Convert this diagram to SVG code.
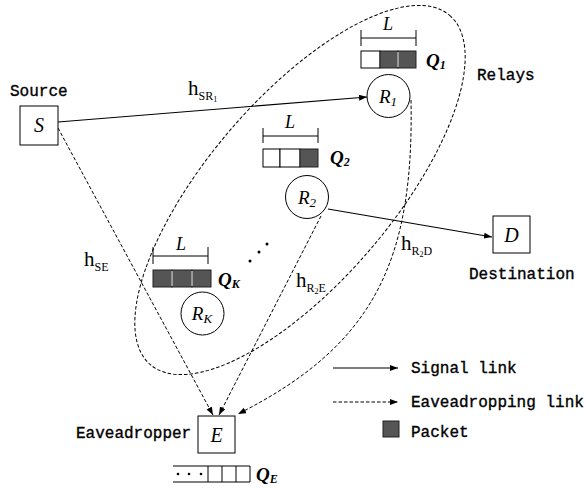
<svg xmlns="http://www.w3.org/2000/svg" width="586" height="488" viewBox="0 0 586 488">
<defs>
<marker id="ah" markerUnits="userSpaceOnUse" markerWidth="9" markerHeight="7" refX="8" refY="3" orient="auto">
<path d="M0,0 L8,3 L0,6 z" fill="#000"/>
</marker>
<style>
.box{fill:#fff;stroke:#000;stroke-width:1}
.cir{fill:#fff;stroke:#000;stroke-width:1}
.sig{fill:none;stroke:#000;stroke-width:1.1}
.dash{fill:none;stroke:#000;stroke-width:1;stroke-dasharray:3.5,2}
.mono{font-family:"Liberation Mono","Courier New",monospace;font-size:16px;fill:#000;stroke:#000;stroke-width:0.35}
.it{font-family:"Liberation Serif","Times New Roman",serif;font-style:italic;fill:#000}
.q{font-family:"Liberation Serif","Times New Roman",serif;font-style:italic;font-weight:bold;font-size:19px;fill:#000}
.h{font-family:"Liberation Serif","Times New Roman",serif;font-size:21px;fill:#000}
.sb{font-size:12px}
.ssb{font-size:8px}
.cell{fill:#fff;stroke:#000;stroke-width:1}
.pk{fill:#555;stroke:#222;stroke-width:1}
.sep{stroke:#fff;stroke-width:1}
.brk{fill:none;stroke:#000;stroke-width:1}
</style>
</defs>

<!-- relay cluster ellipse -->
<ellipse class="dash" cx="300" cy="190" rx="230" ry="92" transform="rotate(-49.4 300 190)"/>

<g id="connectors">
<line class="sig" x1="58" y1="122" x2="367" y2="97" marker-end="url(#ah)"/>
<line class="sig" x1="328" y1="209" x2="492" y2="237" marker-end="url(#ah)"/>
<line class="dash" x1="58" y1="128" x2="213" y2="415" marker-end="url(#ah)"/>
<line class="dash" x1="321" y1="216" x2="219" y2="415" marker-end="url(#ah)"/>
<path class="dash" d="M411,100 C414,260 375,345 238,414" marker-end="url(#ah)"/>
</g>

<g id="labels-links">
<text class="h" x="188" y="95">h<tspan class="sb" dy="5">SR</tspan><tspan class="ssb" dy="2">1</tspan></text>
<text class="h" x="84" y="266">h<tspan class="sb" dy="5">SE</tspan></text>
<text class="h" x="296" y="287">h<tspan class="sb" dy="5">R</tspan><tspan class="ssb" dy="2">2</tspan><tspan class="sb" dy="-2">E</tspan></text>
<text class="h" x="401" y="250">h<tspan class="sb" dy="5">R</tspan><tspan class="ssb" dy="2">2</tspan><tspan class="sb" dy="-2">D</tspan></text>
</g>

<g id="source">
<text class="mono" x="10" y="96">Source</text>
<rect class="box" x="20" y="106" width="38" height="39"/>
<text class="it" x="39" y="132" font-size="20" text-anchor="middle">S</text>
</g>

<g id="relay1">
<line class="brk" x1="361" y1="38" x2="416" y2="38"/>
<line class="brk" x1="361" y1="30" x2="361" y2="46"/>
<line class="brk" x1="416" y1="30" x2="416" y2="46"/>
<text class="it" x="388" y="30" font-size="18" text-anchor="middle">L</text>
<rect class="cell" x="361" y="51" width="19" height="17"/>
<rect class="pk" x="380" y="51" width="18" height="17"/>
<rect class="pk" x="398" y="51" width="18" height="17"/>
<line class="sep" x1="398" y1="52" x2="398" y2="67"/>
<text class="q" x="426" y="67">Q<tspan font-size="12" dy="2">1</tspan></text>
<circle class="cir" cx="388.5" cy="96" r="21.5"/>
<text class="it" x="388" y="103" font-size="19" text-anchor="middle">R<tspan font-size="13" dy="3">1</tspan></text>
</g>

<text class="mono" x="477" y="80">Relays</text>

<g id="relay2">
<line class="brk" x1="263" y1="136" x2="318" y2="136"/>
<line class="brk" x1="263" y1="128" x2="263" y2="143"/>
<line class="brk" x1="318" y1="128" x2="318" y2="143"/>
<text class="it" x="290" y="128" font-size="18" text-anchor="middle">L</text>
<rect class="cell" x="263" y="149" width="17" height="18"/>
<rect class="cell" x="280" y="149" width="20" height="18"/>
<rect class="pk" x="300" y="149" width="18" height="18"/>
<text class="q" x="330" y="164">Q<tspan font-size="12" dy="2">2</tspan></text>
<circle class="cir" cx="307" cy="197" r="21.5"/>
<text class="it" x="307" y="204" font-size="19" text-anchor="middle">R<tspan font-size="13" dy="3">2</tspan></text>
</g>

<g id="relayK">
<line class="brk" x1="153" y1="256" x2="208" y2="256"/>
<line class="brk" x1="153" y1="247" x2="153" y2="264"/>
<line class="brk" x1="208" y1="247" x2="208" y2="264"/>
<text class="it" x="181" y="250" font-size="18" text-anchor="middle">L</text>
<rect class="pk" x="153" y="270" width="19" height="17"/>
<rect class="pk" x="172" y="270" width="20" height="17"/>
<rect class="pk" x="192" y="270" width="19" height="17"/>
<line class="sep" x1="172" y1="271" x2="172" y2="286"/>
<line class="sep" x1="192" y1="271" x2="192" y2="286"/>
<text class="q" x="218" y="286">Q<tspan font-size="12" dy="2">K</tspan></text>
<circle class="cir" cx="202.5" cy="313.5" r="21.5"/>
<text class="it" x="202" y="320" font-size="19" text-anchor="middle">R<tspan font-size="13" dy="3">K</tspan></text>
</g>

<g id="dots">
<circle cx="250" cy="261" r="1.5" fill="#000"/>
<circle cx="259" cy="252" r="1.5" fill="#000"/>
<circle cx="267" cy="244" r="1.5" fill="#000"/>
</g>

<g id="destination">
<rect class="box" x="493" y="216" width="37" height="37"/>
<text class="it" x="511.5" y="242" font-size="20" text-anchor="middle">D</text>
<text class="mono" x="469" y="279">Destination</text>
</g>

<g id="eavesdropper">
<text class="mono" x="76" y="438">Eaveadropper</text>
<rect class="box" x="198" y="416" width="37" height="37"/>
<text class="it" x="216.5" y="442" font-size="20" text-anchor="middle">E</text>
<path class="brk" d="M173,466 H250 M173,482 H250 M208,466 V482 M222,466 V482 M236,466 V482 M250,466 V482"/>
<circle cx="178" cy="474" r="1.3" fill="#000"/>
<circle cx="189" cy="474" r="1.3" fill="#000"/>
<circle cx="201" cy="474" r="1.3" fill="#000"/>
<text class="q" x="256" y="481">Q<tspan font-size="12" dy="2">E</tspan></text>
</g>

<g id="legend">
<line class="sig" x1="333" y1="368" x2="398" y2="368" marker-end="url(#ah)"/>
<text class="mono" x="411" y="373">Signal link</text>
<line class="dash" x1="333" y1="402" x2="398" y2="402" marker-end="url(#ah)"/>
<text class="mono" x="411" y="407">Eaveadropping link</text>
<rect class="pk" x="383" y="421" width="16" height="16"/>
<text class="mono" x="411" y="437">Packet</text>
</g>
</svg>
